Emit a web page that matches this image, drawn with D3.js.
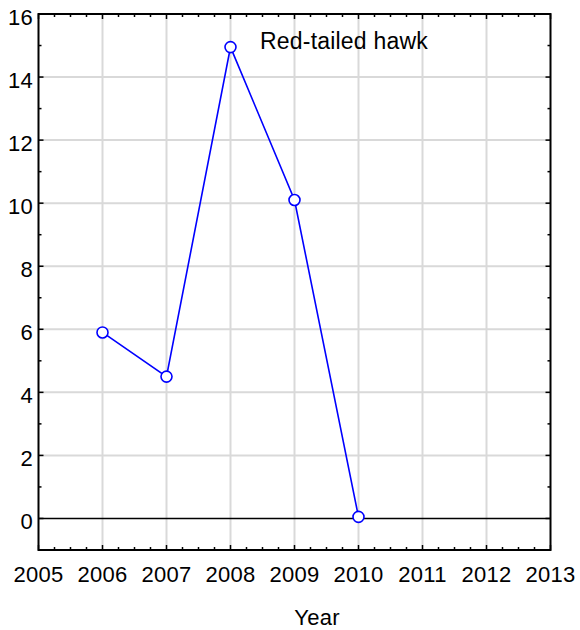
<!DOCTYPE html>
<html><head><meta charset="utf-8">
<script src="https://cdn.jsdelivr.net/npm/d3@7"></script>
<style>body{margin:0;background:#fff;}svg{display:block;font-family:"Liberation Sans",Arial,sans-serif;}</style>
</head><body>
<script>
const years = [2006, 2007, 2008, 2009, 2010];
const values = [5.9, 4.5, 14.95, 10.1, 0.05];
const xTicks = [2005, 2006, 2007, 2008, 2009, 2010, 2011, 2012, 2013];
const yTicks = [0, 2, 4, 6, 8, 10, 12, 14, 16];
const seriesLabel = "Red-tailed hawk";
const xTitle = "Year";

const W = 580, H = 630;
const m = {left: 38.5, right: 29.5, top: 14, bottom: 80};
const svg = d3.select("body").append("svg").attr("width", W).attr("height", H);
const x = d3.scaleLinear().domain([2005, 2013]).range([m.left, W - m.right]);
const y = d3.scaleLinear().domain([-1, 16]).range([H - m.bottom, m.top]);

// grid
svg.append("g").selectAll("line").data(xTicks.slice(1, -1)).join("line")
  .attr("x1", d => x(d)).attr("x2", d => x(d)).attr("y1", y(16)).attr("y2", y(-1))
  .attr("stroke", "#d9d9d9").attr("stroke-width", 2);
svg.append("g").selectAll("line").data(yTicks.slice(1, -1)).join("line")
  .attr("y1", d => y(d)).attr("y2", d => y(d)).attr("x1", x(2005)).attr("x2", x(2013))
  .attr("stroke", "#d9d9d9").attr("stroke-width", 2);
// zero line
svg.append("line").attr("x1", x(2005)).attr("x2", x(2013)).attr("y1", y(0)).attr("y2", y(0))
  .attr("stroke", "#000").attr("stroke-width", 1.5);

// minor / major ticks inward
const xMinor = d3.range(2005, 2013.001, 0.25);
const yMinor = d3.range(-1, 16.001, 1);
const tk = svg.append("g").attr("stroke", "#000").attr("stroke-width", 1.5);
xMinor.forEach(v => {
  const major = Math.abs(v - Math.round(v)) < 1e-6;
  const len = major ? 5 : 3;
  tk.append("line").attr("x1", x(v)).attr("x2", x(v)).attr("y1", y(-1)).attr("y2", y(-1) - len);
  tk.append("line").attr("x1", x(v)).attr("x2", x(v)).attr("y1", y(16)).attr("y2", y(16) + len);
});
yMinor.forEach(v => {
  const major = v % 2 === 0;
  const len = major ? 5 : 3;
  tk.append("line").attr("y1", y(v)).attr("y2", y(v)).attr("x1", x(2005)).attr("x2", x(2005) + len);
  tk.append("line").attr("y1", y(v)).attr("y2", y(v)).attr("x1", x(2013)).attr("x2", x(2013) - len);
});

// frame
svg.append("rect").attr("x", x(2005)).attr("y", y(16)).attr("width", x(2013) - x(2005)).attr("height", y(-1) - y(16))
  .attr("fill", "none").attr("stroke", "#000").attr("stroke-width", 2);

// axis labels
svg.append("g").selectAll("text").data(yTicks).join("text")
  .attr("x", x(2005) - 5.5).attr("y", d => y(d)).attr("dy", "0.48em").attr("text-anchor", "end")
  .attr("font-size", 22).attr("letter-spacing", 0.3).text(d => d);
svg.append("g").selectAll("text").data(xTicks).join("text")
  .attr("x", d => x(d)).attr("y", 582).attr("text-anchor", "middle")
  .attr("font-size", 22).attr("letter-spacing", 0.3).text(d => d);
svg.append("text").attr("x", 317).attr("y", 625).attr("text-anchor", "middle")
  .attr("font-size", 22).attr("letter-spacing", 0.3).text(xTitle);

// series
const pts = years.map((yr, i) => [yr, values[i]]);
svg.append("path").datum(pts)
  .attr("d", d3.line().x(d => x(d[0])).y(d => y(d[1])))
  .attr("fill", "none").attr("stroke", "#0000ff").attr("stroke-width", 1.6);
svg.append("g").selectAll("circle").data(pts).join("circle")
  .attr("cx", d => x(d[0])).attr("cy", d => y(d[1])).attr("r", 5.5)
  .attr("fill", "#fff").attr("stroke", "#0000ff").attr("stroke-width", 1.6);

svg.append("text").attr("x", 260).attr("y", 49).attr("font-size", 23).attr("letter-spacing", 0.2).text(seriesLabel);
</script>
</body></html>
